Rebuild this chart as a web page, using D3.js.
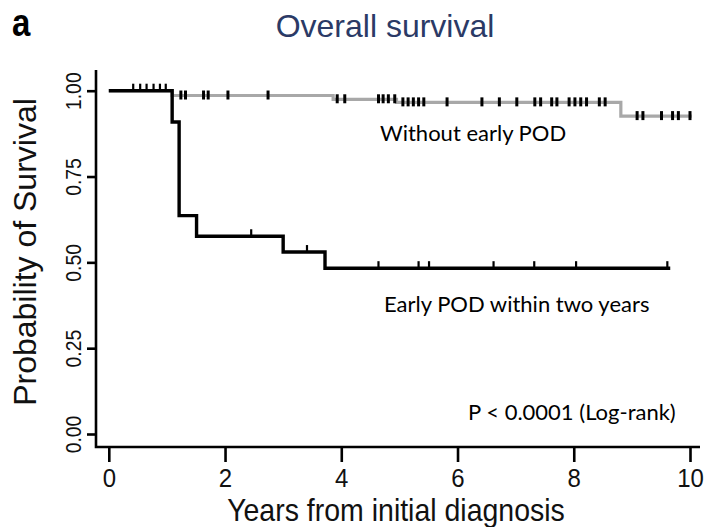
<!DOCTYPE html>
<html>
<head>
<meta charset="utf-8">
<script src="https://cdn.jsdelivr.net/npm/d3@7"></script>
<style>
  body { margin: 0; background: #fff; }
  svg text { font-family: "Liberation Sans", Arial, sans-serif; }
  .note { font-family: Lato, "Open Sans", sans-serif; }
</style>
</head>
<body>
<div id="chart"></div>
<script>
// Kaplan-Meier steps (time in years, survival after the drop)
var earlyTimes = [0, 1.09, 1.21, 1.51, 3.00, 3.72];
var earlySurv  = [1, 0.909, 0.636, 0.576, 0.530, 0.483];
var earlyEnd = 9.66;
var earlyCensor = [2.45, 3.41, 4.64, 5.33, 5.51, 6.62, 7.32, 8.04, 9.61];
var topCensor = [0.42, 0.54, 0.65, 0.77, 0.88, 0.98]; // on the shared 1.00 line

var lateTimes = [0, 1.09, 3.86, 4.95, 8.81];
var lateSurv  = [1, 0.986, 0.975, 0.966, 0.926];
var lateEnd = 10.03;
var lateCensor = [1.24, 1.32, 1.63, 1.71, 2.05, 2.74, 3.93, 4.06, 4.64, 4.72, 4.81, 4.92,
  5.06, 5.15, 5.24, 5.33, 5.42, 5.82, 6.42, 6.72, 7.02, 7.33, 7.43, 7.62, 7.71,
  7.92, 8.02, 8.12, 8.22, 8.44, 8.54, 9.09, 9.19, 9.51, 9.70, 9.80, 10.0];

var xTicks = [0, 2, 4, 6, 8, 10];
var yTicks = [0, 0.25, 0.5, 0.75, 1];

const W = 708, H = 527;
const svg = d3.select("#chart").append("svg")
    .attr("width", W)
    .attr("height", H);

// scales
const x = d3.scaleLinear().domain([0, 10]).range([108.8, 690]);
const y = d3.scaleLinear().domain([0, 1]).range([434, 90.7]);

// axis frame lines (extend a bit past the ticks like the original)
const axisLeftX = 96, axisBottomY = 447;
svg.append("path")
    .attr("d", `M${axisLeftX},70 V${axisBottomY} H700`)
    .attr("fill", "none")
    .attr("stroke", "#000")
    .attr("stroke-width", 2.6);

// x axis
const xAxis = svg.append("g")
    .attr("transform", `translate(0,${axisBottomY})`)
    .call(d3.axisBottom(x).tickValues(xTicks).tickSize(15).tickFormat(d3.format("d")));
xAxis.select(".domain").remove();
xAxis.selectAll("line").attr("stroke-width", 2.6);
xAxis.selectAll("text")
    .attr("font-size", 24).attr("fill", "#111")
    .style("font-family", "'Liberation Sans', Arial, sans-serif")
    .attr("y", null).attr("dy", null)
    .attr("transform", "translate(0,40) scale(1,1.1)");

// y axis, labels rotated
const yAxis = svg.append("g")
    .attr("transform", `translate(${axisLeftX},0)`)
    .call(d3.axisLeft(y).tickValues(yTicks).tickSize(9).tickFormat(d3.format(".2f")));
yAxis.select(".domain").remove();
yAxis.selectAll("line").attr("stroke-width", 2.6);
yAxis.selectAll("text")
    .attr("font-size", 22).attr("fill", "#111")
    .style("font-family", "'Liberation Sans', Arial, sans-serif")
    .attr("x", null).attr("dy", null).attr("y", 0)
    .attr("text-anchor", "middle")
    .attr("transform", "translate(-15,0) rotate(-90) scale(0.88,1)");

// step path builder
function stepData(times, surv, end) {
    const pts = times.map((t, i) => ({ t: t, s: surv[i] }));
    pts.push({ t: end, s: surv[surv.length - 1] });
    return pts;
}
const line = d3.line()
    .x(d => x(d.t))
    .y(d => y(d.s))
    .curve(d3.curveStepAfter);

function survAt(times, surv, t) {
    let s = surv[0];
    for (let i = 0; i < times.length; i++) if (times[i] <= t) s = surv[i];
    return s;
}

// without early POD (gray)
svg.append("path")
    .datum(stepData(lateTimes, lateSurv, lateEnd))
    .attr("d", line)
    .attr("fill", "none")
    .attr("stroke", "#a8a8a8")
    .attr("stroke-width", 3.2);

svg.selectAll(".censor-late")
    .data(lateCensor)
    .enter().append("line")
    .attr("class", "censor-late")
    .attr("x1", d => x(d)).attr("x2", d => x(d))
    .attr("y1", d => y(survAt(lateTimes, lateSurv, d)) - 5)
    .attr("y2", d => y(survAt(lateTimes, lateSurv, d)) + 4)
    .attr("stroke", "#000")
    .attr("stroke-width", 3);

// early POD (black)
svg.append("path")
    .datum(stepData(earlyTimes, earlySurv, earlyEnd))
    .attr("d", line)
    .attr("fill", "none")
    .attr("stroke", "#000")
    .attr("stroke-width", 3.4);

svg.selectAll(".censor-early")
    .data(earlyCensor.concat(topCensor))
    .enter().append("line")
    .attr("class", "censor-early")
    .attr("x1", d => x(d)).attr("x2", d => x(d))
    .attr("y1", d => y(survAt(earlyTimes, earlySurv, d)) - 7)
    .attr("y2", d => y(survAt(earlyTimes, earlySurv, d)))
    .attr("stroke", "#000")
    .attr("stroke-width", 2.2);

// text helper: position, then optional rotation and stretch
function label(str, tx, ty, size, opts) {
    opts = opts || {};
    const t = svg.append("text")
        .attr("transform", `translate(${tx},${ty}) rotate(${opts.rot || 0}) scale(${opts.sx || 1},${opts.sy || 1})`)
        .attr("text-anchor", opts.anchor || "start")
        .attr("font-size", size)
        .attr("fill", opts.fill || "#111")
        .text(str);
    if (opts.bold) t.attr("font-weight", "bold");
    if (opts.cls) t.attr("class", opts.cls);
    return t;
}

label("a", 12, 36, 33, { bold: true, sy: 1.2, fill: "#000" });
label("Overall survival", 385, 37, 32, { anchor: "middle", fill: "#2b3a66" });
label("Years from initial diagnosis", 396, 521, 28.5, { anchor: "middle", sy: 1.1 });
label("Probability of Survival", 36, 252, 32, { anchor: "middle", rot: -90 });

// annotations
label("Without early POD", 380, 141, 22, { cls: "note", fill: "#000" });
label("Early POD within two years", 384, 312, 22, { cls: "note", fill: "#000" });
label("P < 0.0001 (Log-rank)", 468, 420, 22, { cls: "note", fill: "#000" });
</script>
</body>
</html>
